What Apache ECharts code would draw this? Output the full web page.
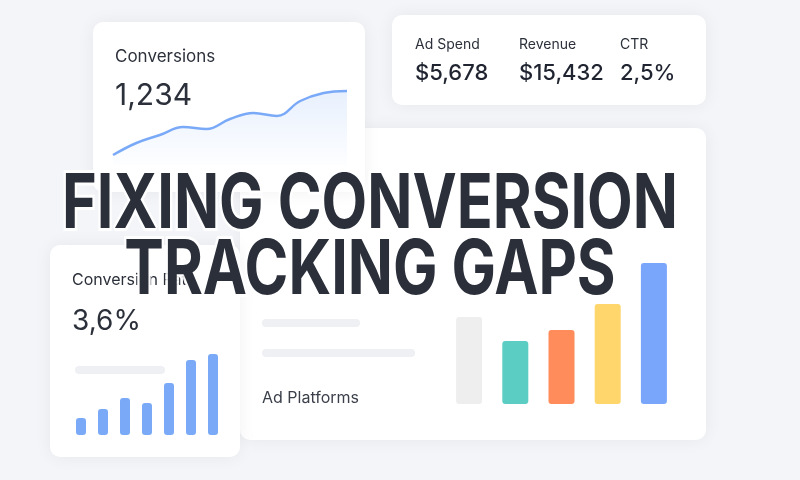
<!DOCTYPE html>
<html><head><meta charset="utf-8">
<script src="https://cdn.jsdelivr.net/npm/echarts@6/dist/echarts.min.js"></script>
<style>html,body{margin:0;padding:0;background:#f4f5f8}#chart{width:800px;height:480px}</style>
</head><body><div id="chart"></div>
<script>
var trendValues = [10, 22, 30, 38, 36, 46, 52, 49, 64, 72, 74];
var platformNames = ['A', 'B', 'C', 'D', 'E'];
var platformValues = [87, 63, 74, 100, 141];
var platformColors = ['#eeeeee', '#5ccdc3', '#ff8c5a', '#ffd66b', '#79a6fb'];
var rateValues = [17, 26, 37, 32, 52, 75, 81];
var metricLabels = ['Ad Spend', 'Revenue', 'CTR'];
var metricValues = ['$5,678', '$15,432', '2,5%'];
var titleLines = ['FIXING CONVERSION', 'TRACKING GAPS'];

var titleFont = 'bold 76px Inter';
var ctx = document.createElement('canvas').getContext('2d');
ctx.font = titleFont;
var titleScale = 616 / ctx.measureText(titleLines[0]).width;

function card(x, y, w, h, z) {
  return {type: 'rect', shape: {x: x, y: y, width: w, height: h, r: 10}, z: z,
    style: {fill: '#ffffff', shadowBlur: 18, shadowColor: 'rgba(0,0,0,0.06)'}};
}
function label(x, y, t, size, color, weight) {
  return {type: 'text', x: x, y: y, z: 5,
    style: {text: t, fontSize: size, fill: color, fontFamily: 'Inter', fontWeight: weight || 'normal', verticalAlign: 'middle'}};
}

var graphics = [
  card(240, 128, 466, 312, 0), card(392, 15, 314, 90, 0), card(50, 245, 190, 212, 0), card(93, 22, 272, 170, 1),
  label(115, 57, 'Conversions', 17, '#2b303a'),
  label(115, 96, '1,234', 30, '#2b303a'),
  label(72, 280, 'Conversion Rate', 16, '#2b303a'),
  label(72, 322, '3,6%', 28, '#2b303a'),
  label(262, 398, 'Ad Platforms', 16, '#3a3f4a'),
  {type: 'rect', z: 5, shape: {x: 262, y: 319, width: 98, height: 8, r: 4}, style: {fill: '#eef0f3'}},
  {type: 'rect', z: 5, shape: {x: 262, y: 349, width: 153, height: 8, r: 4}, style: {fill: '#eef0f3'}},
  {type: 'rect', z: 5, shape: {x: 75, y: 366, width: 90, height: 8, r: 4}, style: {fill: '#eef0f3'}}
];
var mx = [415, 519, 620];
metricLabels.forEach(function (l, i) {
  graphics.push(label(mx[i], 45, l, 14, '#2b303a'));
  graphics.push(label(mx[i], 73, metricValues[i], 22, '#1f2430', 500));
});
titleLines.forEach(function (t, i) {
  graphics.push({type: 'text', x: 370, y: [205, 271][i], z: 100, scaleX: titleScale,
    style: {text: t, font: titleFont, fill: '#2a2f3a', align: 'center', verticalAlign: 'middle',
      stroke: 'rgba(255,255,255,0.85)', lineWidth: 6}});
});

var chart = echarts.init(document.getElementById('chart'));
var hidden = {show: false};
chart.setOption({
  animation: false,
  graphic: graphics,
  grid: [
    {left: 113, top: 85, width: 234, height: 80},
    {left: 446, top: 263, width: 231, height: 141},
    {left: 70, top: 354, width: 154, height: 81}
  ],
  xAxis: [
    {gridIndex: 0, type: 'category', boundaryGap: false, data: trendValues.map(function (v, i) { return i; }), axisLine: hidden, axisTick: hidden, axisLabel: hidden},
    {gridIndex: 1, type: 'category', data: platformNames, axisLine: hidden, axisTick: hidden, axisLabel: hidden},
    {gridIndex: 2, type: 'category', data: rateValues.map(function (v, i) { return i; }), axisLine: hidden, axisTick: hidden, axisLabel: hidden}
  ],
  yAxis: [
    {gridIndex: 0, min: 0, max: 80, show: false},
    {gridIndex: 1, min: 0, max: 141, show: false},
    {gridIndex: 2, min: 0, max: 81, show: false}
  ],
  series: [
    {type: 'line', xAxisIndex: 0, yAxisIndex: 0, smooth: 0.4, showSymbol: false, data: trendValues, z: 3,
      lineStyle: {color: '#7aaaf7', width: 2.5},
      areaStyle: {color: new echarts.graphic.LinearGradient(0, 0, 0, 1, [{offset: 0, color: 'rgba(122,170,247,0.25)'}, {offset: 1, color: 'rgba(122,170,247,0.02)'}])}},
    {type: 'bar', xAxisIndex: 1, yAxisIndex: 1, barWidth: 26, z: 3,
      data: platformValues.map(function (v, i) { return {value: v, itemStyle: {color: platformColors[i], borderRadius: 3}}; })},
    {type: 'bar', xAxisIndex: 2, yAxisIndex: 2, barWidth: 10, z: 3,
      itemStyle: {color: '#7aaaf7', borderRadius: 3}, data: rateValues}
  ]
});
</script></body></html>
